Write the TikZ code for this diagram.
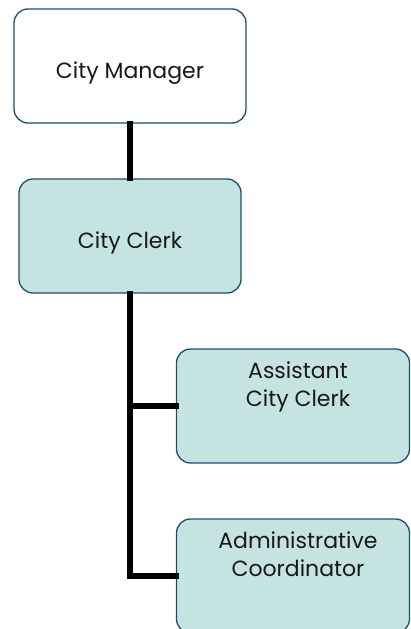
\documentclass[tikz,border=0pt]{standalone}
\usepackage{fontspec}
\setmainfont{Poppins}
\usepackage{tikz}
\usetikzlibrary{positioning}
\definecolor{boxteal}{RGB}{197, 227, 224}
\definecolor{boxedge}{RGB}{30, 78, 110}
\definecolor{textgrey}{RGB}{25, 25, 25}

\begin{document}
\begin{tikzpicture}[x=1pt, y=-1pt, line cap=rect, line join=miter,
	orgbox/.style={draw=boxedge, line width=1.3pt, rounded corners=14pt, text=textgrey,
		font=\fontsize{22}{28}\selectfont, align=center, inner sep=0pt,
		text height=30pt, text depth=5pt},
	toplabel/.style={anchor=north, align=center, text=textgrey, inner sep=0pt,
		font=\fontsize{22}{28}\selectfont, yshift=-13pt, xshift=5pt},
	link/.style={line width=5.5pt, black}]
	% canvas
	\useasboundingbox (0,0) rectangle (410,629);
	
	% boxes
	\node[orgbox, fill=white, minimum width=232pt, minimum height=114pt] (cm) at (130,66) {City Manager};
	\node[orgbox, fill=boxteal, minimum width=222pt, minimum height=114pt] (clerk) at (130,236) {City Clerk};
	\node[orgbox, fill=boxteal, minimum width=233pt, minimum height=114pt,
		label={[toplabel]north:Assistant\\City Clerk}] (asst) at (293,406) {};
	\node[orgbox, fill=boxteal, minimum width=233pt, minimum height=114pt,
		label={[toplabel]north:Administrative\\Coordinator}] (admin) at (293,576) {};
	
	% connectors
	\draw[link] (cm) -- (clerk);
	\draw[link] (clerk.south) |- (asst.west);
	\draw[link] (clerk.south) |- (admin.west);

\end{tikzpicture}
\end{document}
